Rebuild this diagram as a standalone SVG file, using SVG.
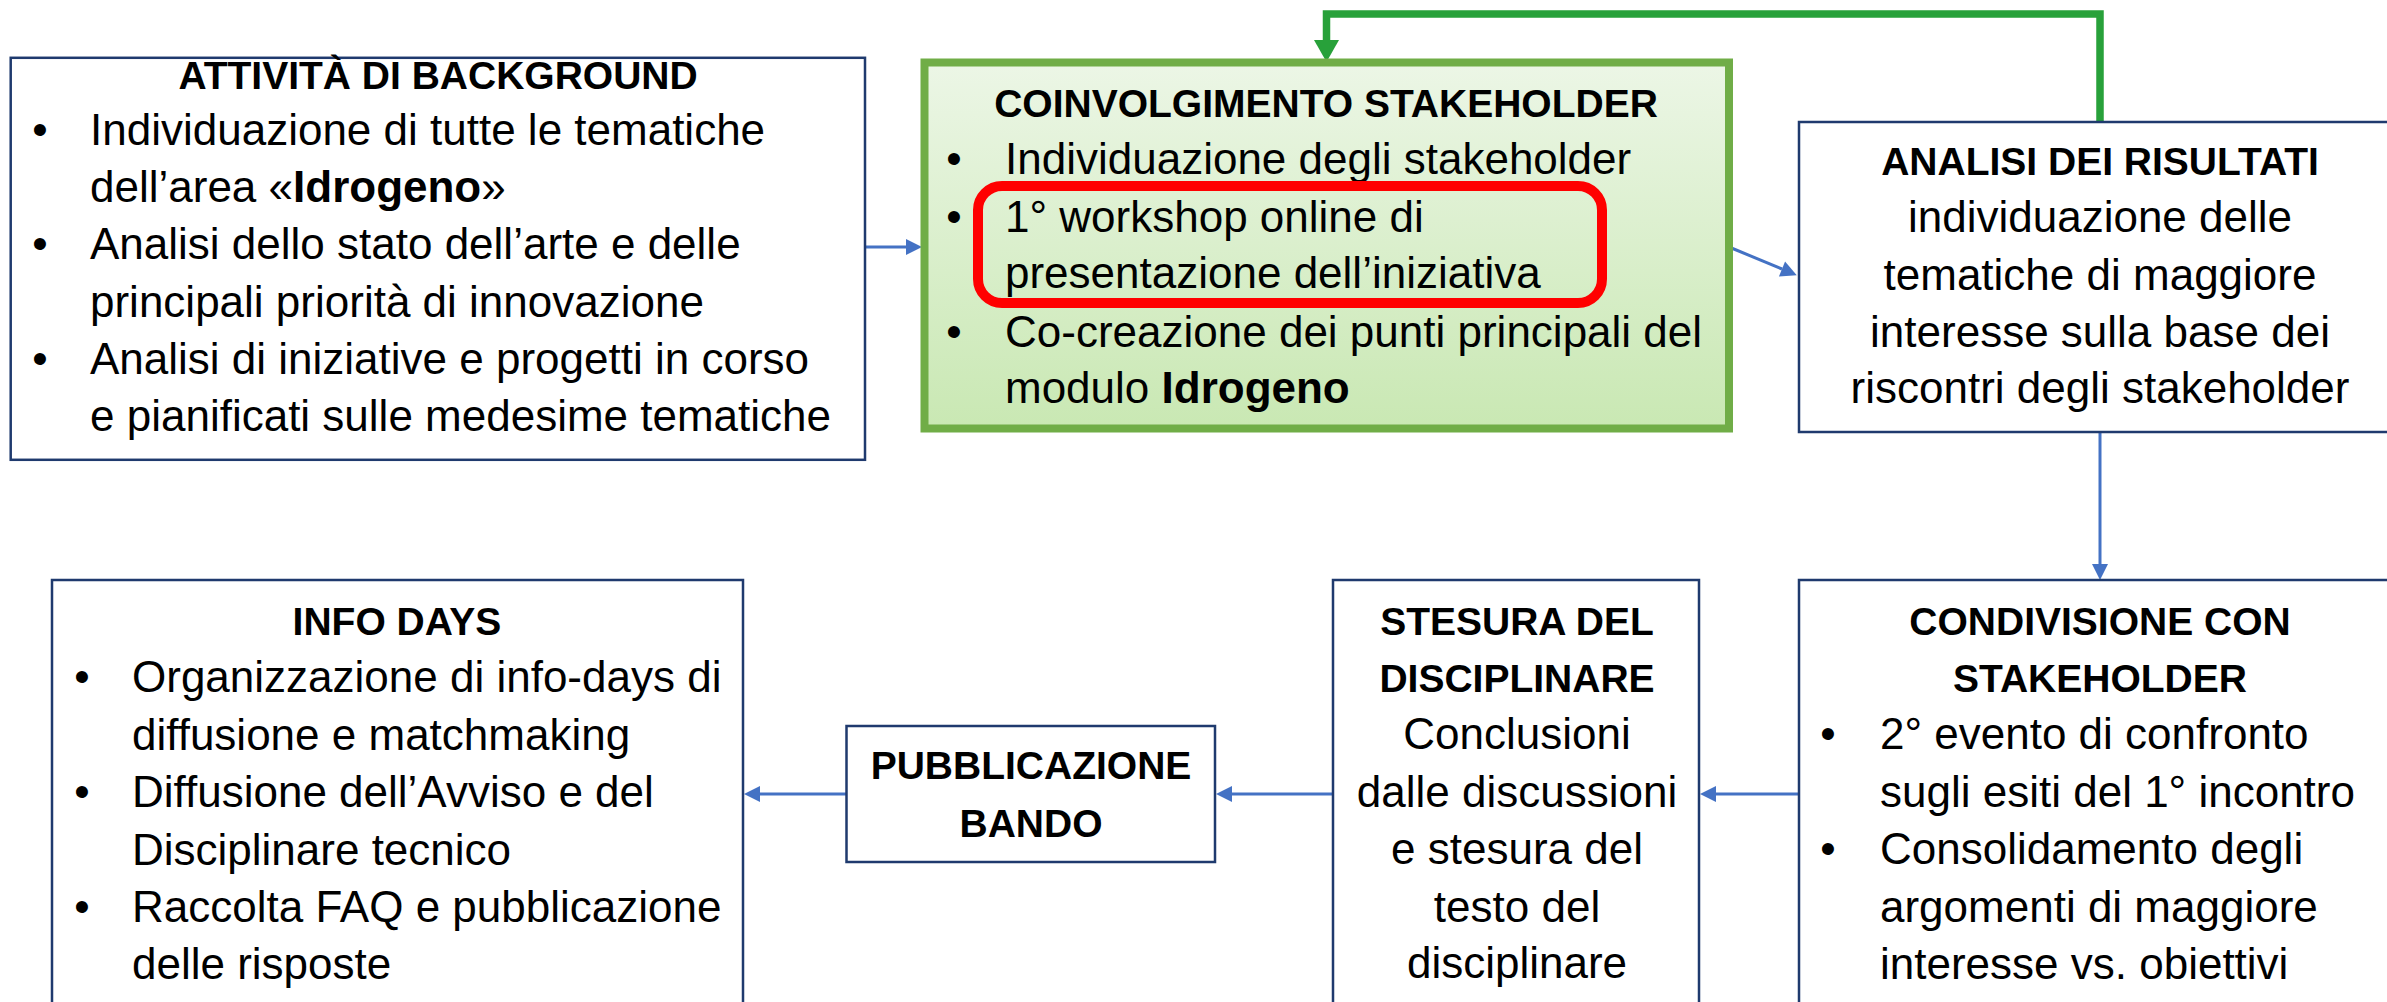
<svg xmlns="http://www.w3.org/2000/svg" width="2387" height="1002" viewBox="0 0 2387 1002">
<style>
.box{fill:#ffffff;stroke:#1f3a6e;stroke-width:2.5}
.t{font-family:"Liberation Sans",Arial,sans-serif;font-size:44px;fill:#000}
.h{font-family:"Liberation Sans",Arial,sans-serif;font-size:39px;font-weight:bold;fill:#000}
.c{text-anchor:middle}
.b{font-weight:bold}
.conn{fill:none;stroke:#4472c4;stroke-width:3}
.green{fill:none;stroke:#28a13a;stroke-width:7.5}
</style>
<defs>
<linearGradient id="gfill" x1="0" y1="0" x2="0" y2="1">
<stop offset="0" stop-color="#ecf6e6"/>
<stop offset="1" stop-color="#c9e8b3"/>
</linearGradient>
<marker id="ab" markerUnits="userSpaceOnUse" markerWidth="17" markerHeight="17" refX="0" refY="8" orient="auto" overflow="visible">
<path d="M0,0 L16,8 L0,16 z" fill="#4472c4"/>
</marker>
<marker id="ag" markerUnits="userSpaceOnUse" markerWidth="26" markerHeight="26" refX="0" refY="12.5" orient="auto" overflow="visible">
<path d="M0,0 L22,12.5 L0,25 z" fill="#28a13a"/>
</marker>
</defs>

<g id="connectors">
<path class="conn" d="M866,247 L906,247" marker-end="url(#ab)"/>
<path class="conn" d="M1729,247 L1782,269" marker-end="url(#ab)"/>
<path class="conn" d="M2100,432 L2100,564" marker-end="url(#ab)"/>
<path class="conn" d="M1799,794 L1716,794" marker-end="url(#ab)"/>
<path class="conn" d="M1333,794 L1232,794" marker-end="url(#ab)"/>
<path class="conn" d="M846,794 L760,794" marker-end="url(#ab)"/>
<path class="green" d="M2100,122 L2100,14 L1326.5,14 L1326.5,40" marker-end="url(#ag)"/>
</g>

<g id="node-background">
<rect class="box" x="10.7" y="57.8" width="854.3" height="402"/>
<text class="h c" x="438" y="89">ATTIVITÀ DI BACKGROUND</text>
<text class="t c" x="40" y="145">•</text>
<text class="t c" x="40" y="259">•</text>
<text class="t c" x="40" y="374">•</text>
<text class="t" x="90" y="145">Individuazione di tutte le tematiche</text>
<text class="t" x="90" y="202">dell’area «<tspan class="b">Idrogeno</tspan>»</text>
<text class="t" x="90" y="259">Analisi dello stato dell’arte e delle</text>
<text class="t" x="90" y="317">principali priorità di innovazione</text>
<text class="t" x="90" y="374">Analisi di iniziative e progetti in corso</text>
<text class="t" x="90" y="431">e pianificati sulle medesime tematiche</text>
</g>

<g id="node-coinvolgimento">
<rect x="924.5" y="62.5" width="804.5" height="366" fill="url(#gfill)" stroke="#70ad47" stroke-width="8"/>
<text class="h c" x="1326" y="117">COINVOLGIMENTO STAKEHOLDER</text>
<text class="t c" x="954" y="174">•</text>
<text class="t c" x="954" y="232">•</text>
<text class="t c" x="954" y="347">•</text>
<text class="t" x="1005" y="174">Individuazione degli stakeholder</text>
<text class="t" x="1005" y="232">1° workshop online di</text>
<text class="t" x="1005" y="288">presentazione dell’iniziativa</text>
<text class="t" x="1005" y="347">Co-creazione dei punti principali del</text>
<text class="t" x="1005" y="403">modulo <tspan class="b">Idrogeno</tspan></text>
<rect x="978" y="186" width="624" height="117" rx="24" ry="24" fill="none" stroke="#ff0000" stroke-width="10"/>
</g>

<g id="node-analisi">
<rect class="box" x="1799" y="122" width="610" height="310"/>
<text class="h c" x="2100" y="175">ANALISI DEI RISULTATI</text>
<text class="t c" x="2100" y="232">individuazione delle</text>
<text class="t c" x="2100" y="290">tematiche di maggiore</text>
<text class="t c" x="2100" y="347">interesse sulla base dei</text>
<text class="t c" x="2100" y="403">riscontri degli stakeholder</text>
</g>

<g id="node-infodays">
<rect class="box" x="52" y="580" width="691" height="440"/>
<text class="h c" x="397" y="635">INFO DAYS</text>
<text class="t c" x="82" y="692">•</text>
<text class="t c" x="82" y="807">•</text>
<text class="t c" x="82" y="922">•</text>
<text class="t" x="132" y="692">Organizzazione di info-days di</text>
<text class="t" x="132" y="750">diffusione e matchmaking</text>
<text class="t" x="132" y="807">Diffusione dell’Avviso e del</text>
<text class="t" x="132" y="865">Disciplinare tecnico</text>
<text class="t" x="132" y="922">Raccolta FAQ e pubblicazione</text>
<text class="t" x="132" y="979">delle risposte</text>
</g>

<g id="node-pubblicazione">
<rect class="box" x="846.5" y="726" width="368.5" height="136"/>
<text class="h c" x="1031" y="779">PUBBLICAZIONE</text>
<text class="h c" x="1031" y="837">BANDO</text>
</g>

<g id="node-stesura">
<rect class="box" x="1333" y="580" width="366" height="440"/>
<text class="h c" x="1517" y="635">STESURA DEL</text>
<text class="h c" x="1517" y="692">DISCIPLINARE</text>
<text class="t c" x="1517" y="749">Conclusioni</text>
<text class="t c" x="1517" y="807">dalle discussioni</text>
<text class="t c" x="1517" y="864">e stesura del</text>
<text class="t c" x="1517" y="922">testo del</text>
<text class="t c" x="1517" y="978">disciplinare</text>
</g>

<g id="node-condivisione">
<rect class="box" x="1799" y="580" width="610" height="440"/>
<text class="h c" x="2100" y="635">CONDIVISIONE CON</text>
<text class="h c" x="2100" y="692">STAKEHOLDER</text>
<text class="t c" x="1828" y="749">•</text>
<text class="t c" x="1828" y="864">•</text>
<text class="t" x="1880" y="749">2° evento di confronto</text>
<text class="t" x="1880" y="807">sugli esiti del 1° incontro</text>
<text class="t" x="1880" y="864">Consolidamento degli</text>
<text class="t" x="1880" y="922">argomenti di maggiore</text>
<text class="t" x="1880" y="979">interesse vs. obiettivi</text>
</g>
</svg>
